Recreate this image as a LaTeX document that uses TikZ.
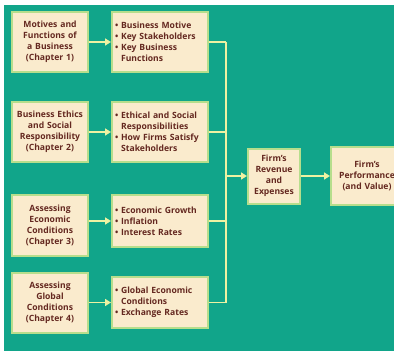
\documentclass[tikz,border=0pt]{standalone}
\usepackage{fontspec}
\setmainfont{Open Sans}
\usetikzlibrary{arrows.meta}
\definecolor{teal}{HTML}{11A58A}
\definecolor{cream}{HTML}{FAEBCD}
\definecolor{rim}{HTML}{B6DE8C}
\definecolor{arr}{HTML}{EEF2A2}
\definecolor{ink}{HTML}{642820}
\tikzset{
  box/.style={draw=rim, line width=2pt, fill=cream, text=ink, inner sep=1pt,
    font=\bfseries\fontsize{8.6}{10.9}\selectfont, align=center},
  lbox/.style={box, minimum width=76pt, minimum height=60pt, text width=74pt},
  rbox/.style={box, minimum width=96pt, text width=90pt, align=left},
  link/.style={draw=arr, line width=1.8pt},
  arrow/.style={link, -{Triangle[length=6pt,width=7pt]}},
}
\newcommand{\bl}{\textbullet\ }
\newcommand{\bs}{\phantom{\textbullet\ }}
\begin{document}
\begin{tikzpicture}[x=1pt,y=-1pt]
\useasboundingbox (0,0) rectangle (394,353);
\fill[white] (0,0) rectangle (394,353);
\fill[teal] (4,5) rectangle (394,351);

\node[lbox] (a1) at (50,42) {Motives and\\Functions of\\a Business\\(Chapter 1)};
\node[rbox, minimum height=60pt] (b1) at (160,42) {\bl Business Motive\\\bl Key Stakeholders\\\bl Key Business\\\bs Functions};

\node[lbox] (a2) at (50,132) {Business Ethics\\and Social\\Responsibility\\(Chapter 2)};
\node[rbox, minimum height=60pt] (b2) at (160,132) {\bl Ethical and Social\\\bs Responsibilities\\\bl How Firms Satisfy\\\bs Stakeholders};

\node[lbox, minimum height=61pt] (a3) at (50,225.5) {Assessing\\Economic\\Conditions\\(Chapter 3)};
\node[rbox, minimum height=52pt] (b3) at (160,221) {\bl Economic Growth\\\bl Inflation\\\bl Interest Rates};

\node[lbox] (a4) at (50,303) {Assessing\\Global\\Conditions\\(Chapter 4)};
\node[rbox, minimum height=51pt] (b4) at (160,302.5) {\bl Global Economic\\\bs Conditions\\\bl Exchange Rates};

\node[box, minimum width=52pt, minimum height=55pt, text width=50pt] (c) at (274,176) {Firm's\\Revenue\\and\\Expenses};
\node[box, minimum width=72pt, minimum height=58pt, text width=70pt, anchor=west] (d) at (330,176) {Firm's\\Performance\\(and Value)};

\coordinate (jx) at (226,0);

\foreach \i in {1,2,3,4} {
  \draw[arrow] (a\i.east |- b\i.west) -- (b\i.west);
  \draw[link] (b\i.east) -- (b\i.east -| jx);
}
\draw[link] (b1.east -| jx) -- (b4.east -| jx);
\draw[arrow] (c.west -| jx) -- (c.west);
\draw[arrow] (c.east) -- (d.west);
\end{tikzpicture}
\end{document}
